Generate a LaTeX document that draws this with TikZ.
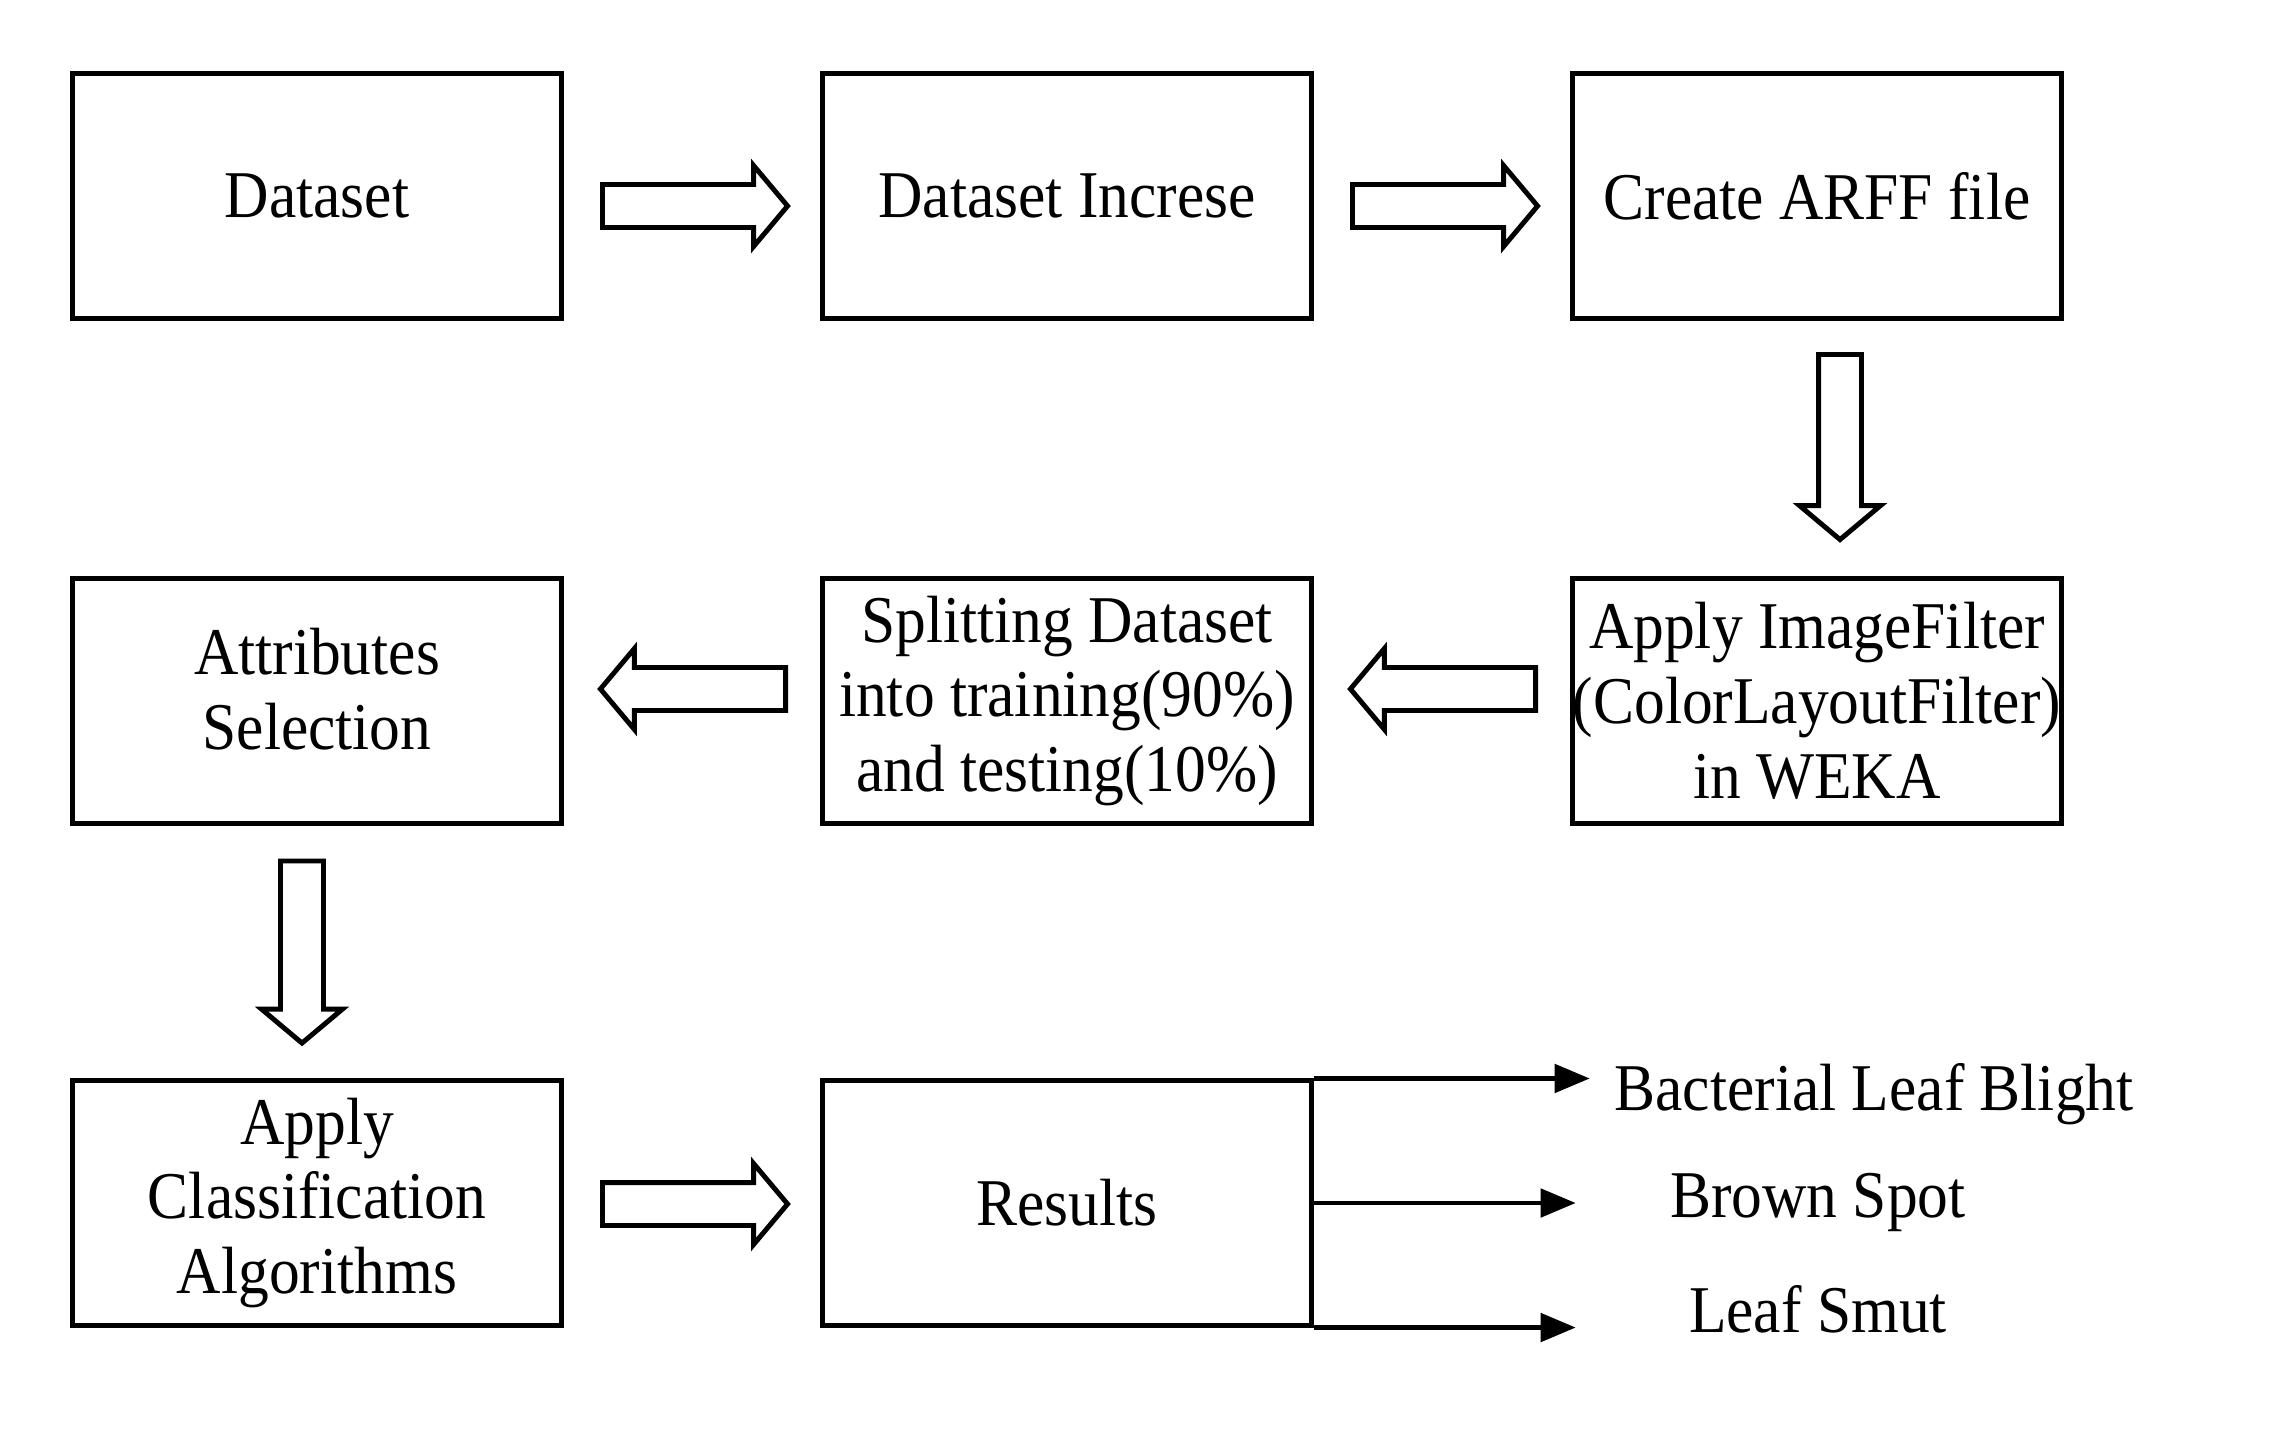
\documentclass[tikz,border=0pt]{standalone}
\usepackage{fontspec}
\setmainfont[FakeStretch=0.92]{Liberation Serif}
\usetikzlibrary{shapes.arrows,arrows.meta}

\begin{document}
\begin{tikzpicture}[x=0.01cm,y=-0.01cm,
    box/.style={draw,line width=1.4pt,minimum width=4.88cm,minimum height=2.44cm,
      inner sep=0pt,align=center,font=\fontsize{19}{21.3}\selectfont},
    fat/.style={draw,line width=1.4pt,single arrow,inner sep=0.19cm,
      minimum height=1.85cm,minimum width=0.76cm,single arrow head extend=0.19cm,
      single arrow tip angle=100},
    lbl/.style={font=\fontsize{19}{21.3}\selectfont},
    classarrow/.style={line width=1.4pt,-{Triangle[length=10pt,width=8pt]}}]
  \useasboundingbox (0,0) rectangle (2269,1448);
  % boxes, three rows
  \node[box] (data)   at (317,196)  {Dataset};
  \node[box] (incr)   at (1067,196) {Dataset Increse};
  \node[box] (arff)   at (1817,196) {Create ARFF file};
  \node[box] (filter) at (1817,701) {Apply ImageFilter\\(ColorLayoutFilter)\\in WEKA};
  \node[box] (split)  at (1067,701) {Splitting Dataset\\into training(90\%)\\and testing(10\%)};
  \node[box] (attr)   at (317,701)  {Attributes\\Selection\rule[-0.24cm]{0pt}{0pt}};
  \node[box] (algo)   at (317,1203) {Apply\\Classification\\Algorithms};
  \node[box] (res)    at (1067,1203) {Results};
  % block arrows between the boxes
  \node[fat] (a1) at (686,206)  {};
  \node[fat] (a2) at (1436,206) {};
  \node[fat,shape border rotate=270] (a3) at (1840,438) {};
  \node[fat,shape border rotate=180] (a4) at (1452,689) {};
  \node[fat,shape border rotate=180] (a5) at (702,689)  {};
  \node[fat,shape border rotate=270,minimum height=1.82cm] (a6) at (302,943) {};
  \node[fat] (a7) at (686,1204) {};
  % outcome classes
  \node[lbl] (blb)  at (1874,1094) {Bacterial Leaf Blight};
  \node[lbl] (bsp)  at (1818,1202) {Brown Spot};
  \node[lbl] (smut) at (1818,1309) {Leaf Smut};
  \coordinate (t1) at ([xshift=2.76cm]res.north east);
  \coordinate (t2) at ([xshift=2.62cm]res.east);
  \coordinate (t3) at ([xshift=2.62cm]res.south east);
  \draw[classarrow] (res.north east) -- (t1);
  \draw[classarrow] (res.east) -- (t2);
  \draw[classarrow] (res.south east) -- (t3);
\end{tikzpicture}
\end{document}
